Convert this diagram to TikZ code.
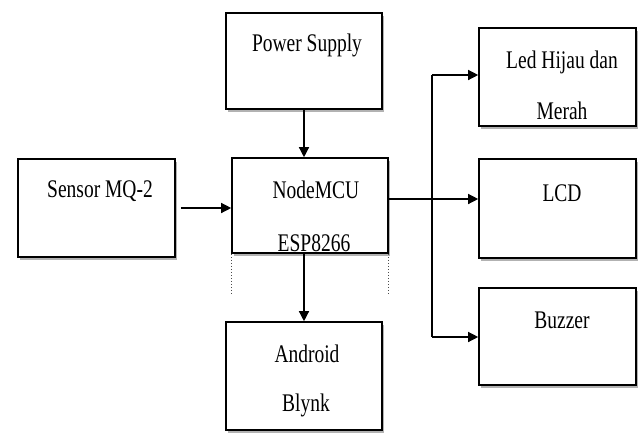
\documentclass[tikz,border=0pt]{standalone}
\usepackage{fontspec}
\setmainfont{Liberation Serif}
\usetikzlibrary{arrows.meta,shadows}
\newcommand{\tx}[1]{\scalebox{1}[1.3]{#1}}
\begin{document}
\begin{tikzpicture}[x=1pt,y=-1pt,
  blk/.style={draw=black,line width=1.6pt,fill=white,inner sep=0pt,
    drop shadow={shadow xshift=2pt,shadow yshift=-2.5pt,fill=black!30,opacity=1}},
  lbl/.style={inner sep=0pt,font=\fontsize{19.5}{22}\selectfont},
  arr/.style={line width=1.3pt,-{Triangle[length=10pt,width=10pt]}},
  ln/.style={line width=1.3pt},
  ext/.style={draw=black!70,line width=1pt,dotted}]
\useasboundingbox (0,0) rectangle (638,432);
% boxes
\node[blk,minimum width=156pt,minimum height=96pt] (ps) at (304,61) {};
\node[blk,minimum width=157pt,minimum height=98pt] (sen) at (96.5,208) {};
\node[blk,minimum width=156pt,minimum height=95pt] (nm) at (310,205.5) {};
\node[blk,minimum width=156pt,minimum height=108pt] (and) at (304,376) {};
\node[blk,minimum width=157pt,minimum height=98pt] (led) at (557.5,77) {};
\node[blk,minimum width=157pt,minimum height=99pt] (lcd) at (557.5,208.5) {};
\node[blk,minimum width=157pt,minimum height=97pt] (buz) at (557.5,336.5) {};
% texts
\node[lbl] (tps) at (307,45) {\tx{Power Supply}};
\node[lbl] (tsen) at (100,191) {\tx{Sensor MQ-2}};
\node[lbl] (tnm1) at (316,190) {\tx{NodeMCU}};
\node[lbl] (tnm2) at (314,243) {\tx{ESP8266}};
\node[lbl] (tand1) at (307,354) {\tx{Android}};
\node[lbl] (tand2) at (306,405) {\tx{Blynk}};
\node[lbl] (tled1) at (562,62) {\tx{Led Hijau dan}};
\node[lbl] (tled2) at (562,111) {\tx{Merah}};
\node[lbl] (tlcd) at (562,193) {\tx{LCD}};
\node[lbl] (tbuz) at (562,320) {\tx{Buzzer}};
% extension lines below NodeMCU
\draw[ext] (nm.south west) -- ++(0,40);
\draw[ext] (nm.south east) -- ++(0,40);
% connectors
\coordinate (bt) at (432,75);
\coordinate (bb) at (432,337);
\coordinate (lcdy) at (0,199);
\draw[arr] (ps.south) -- (ps.south |- nm.north);
\draw[arr,shorten <=5pt] (sen.east) -- (sen.east -| nm.west);
\draw[arr] (and.north |- nm.south) -- (and.north);
\draw[ln] (bt) -- (bb);
\draw[arr] (bt) -- (led.west |- bt);
\draw[arr] (bb) -- (buz.west |- bb);
\draw[arr] (nm.east |- lcdy) -- (lcd.west |- lcdy);
\end{tikzpicture}
\end{document}
